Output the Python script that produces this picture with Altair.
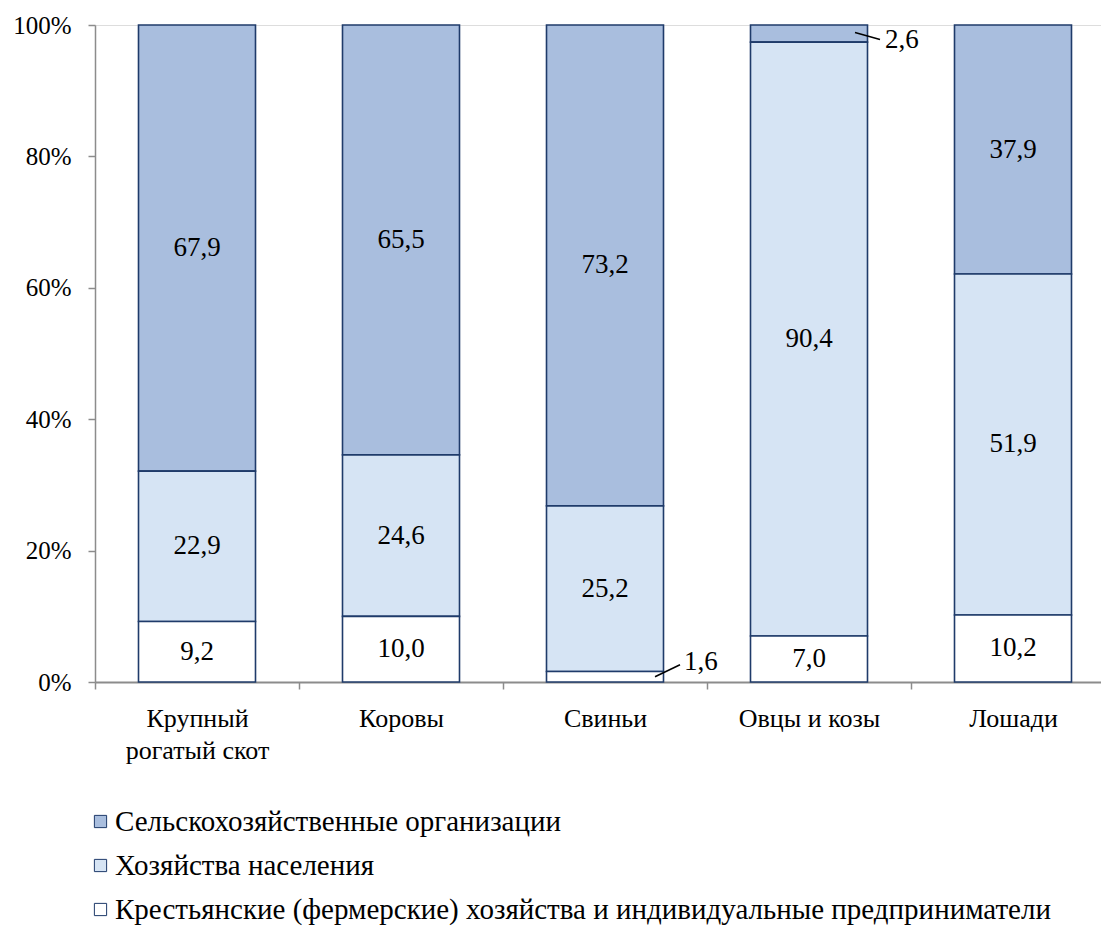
import altair as alt
import pandas as pd

categories = ["Крупный рогатый скот", "Коровы", "Свиньи", "Овцы и козы", "Лошади"]
series = [
    "Сельскохозяйственные организации",
    "Хозяйства населения",
    "Крестьянские (фермерские) хозяйства и индивидуальные предприниматели",
]
# values per series, in category order
s_org = [67.9, 65.5, 73.2, 2.6, 37.9]
s_pop = [22.9, 24.6, 25.2, 90.4, 51.9]
s_farm = [9.2, 10.0, 1.6, 7.0, 10.2]

stack_order = {series[0]: 2, series[1]: 1, series[2]: 0}
rows = []
for s, vals in zip(series, [s_org, s_pop, s_farm]):
    for c, v in zip(categories, vals):
        rows.append({"category": c, "series": s, "value": v, "ord": stack_order[s]})
df = pd.DataFrame(rows)

FONT = "Liberation Serif"
NAVY = "#1F3B6A"
GREY = "#8C8C8C"

base = alt.Chart(df).transform_stack(
    stack="value",
    groupby=["category"],
    as_=["y0", "y1"],
    sort=[alt.SortField("ord", order="ascending")],
    offset="normalize",
).transform_calculate(
    mid="(datum.y0 + datum.y1) / 2",
    label="replace(format(datum.value, '.1f'), '.', ',')",
)

x_enc = alt.X(
    "category:N",
    sort=categories,
    scale=alt.Scale(range=[0, 1020], paddingInner=0, paddingOuter=0),
    axis=alt.Axis(
        title=None,
        labelAngle=0,
        labelFontSize=26,
        labelPadding=16,
        labelLineHeight=32,
        labelExpr="datum.label == 'Крупный рогатый скот' ? ['Крупный', 'рогатый  скот'] : datum.label",
        tickBand="extent",
        tickSize=7,
        tickColor=GREY,
        domainColor=GREY,
        domainWidth=2,
        tickWidth=1.5,
        labelBaseline="top",
    ),
)

bars = base.mark_bar(width=117, stroke=NAVY, strokeWidth=1.6).encode(
    x=x_enc,
    y=alt.Y(
        "y0:Q",
        scale=alt.Scale(domain=[0, 1]),
        axis=alt.Axis(
            title=None,
            format=".0%",
            values=[0, 0.2, 0.4, 0.6, 0.8, 1.0],
            grid=False,
            labelFontSize=25,
            labelPadding=17,
            tickSize=7,
            tickColor=GREY,
            domainColor=GREY,
            domainWidth=1.5,
            tickWidth=1.5,
        ),
    ),
    y2="y1:Q",
    color=alt.Color(
        "series:N",
        scale=alt.Scale(domain=series, range=["#A9BEDE", "#D6E4F4", "#FFFFFF"]),
        legend=alt.Legend(
            title=None,
            orient="none",
            legendX=-9,
            legendY=782,
            direction="vertical",
            symbolType="square",
            symbolSize=150,
            symbolStrokeColor=NAVY,
            symbolStrokeWidth=1,
            labelOffset=0,
            labelLimit=1000,
            rowPadding=14,
        ),
    ),
)

labels = base.transform_filter("datum.value >= 5").mark_text(
    baseline="middle"
).encode(x=alt.X("category:N", sort=categories), y="mid:Q", text="label:N")

# callout for 2,6 (top of "Овцы и козы")
c1 = base.transform_filter(
    "datum.category == 'Овцы и козы' && datum.ord == 2"
)
c1_line = c1.mark_rule(color="black", strokeWidth=1.5, xOffset=46, x2Offset=71, yOffset=-1, y2Offset=6).encode(
    x=alt.X("category:N", sort=categories), x2="category:N", y="mid:Q", y2="mid:Q"
)
c1_text = c1.mark_text(align="left", baseline="middle", dx=76, dy=6).encode(
    x=alt.X("category:N", sort=categories), y="mid:Q", text="label:N"
)

# callout for 1,6 (bottom of "Свиньи")
c2 = base.transform_filter(
    "datum.category == 'Свиньи' && datum.ord == 0"
)
c2_line = c2.mark_rule(color="black", strokeWidth=1.5, xOffset=50, x2Offset=75, yOffset=0, y2Offset=-12).encode(
    x=alt.X("category:N", sort=categories), x2="category:N", y="mid:Q", y2="mid:Q"
)
c2_text = c2.mark_text(align="left", baseline="middle", dx=79, dy=-15).encode(
    x=alt.X("category:N", sort=categories), y="mid:Q", text="label:N"
)

chart = alt.layer(bars, labels, c1_line, c1_text, c2_line, c2_text).properties(
    width=1006,
    height=657,
    autosize=alt.AutoSizeParams(type="none"),
    padding={"left": 87, "top": 17, "right": 0, "bottom": 248},
).configure_view(stroke=None).configure(
    background="white", font=FONT
).configure_axis(
    labelFont=FONT, labelColor="black"
).configure_legend(
    labelFont=FONT, labelFontSize=29, labelColor="black"
).configure_text(
    font=FONT, fontSize=27, color="black"
)

chart.save("out.html", embed_options={"renderer": "svg", "actions": False})
